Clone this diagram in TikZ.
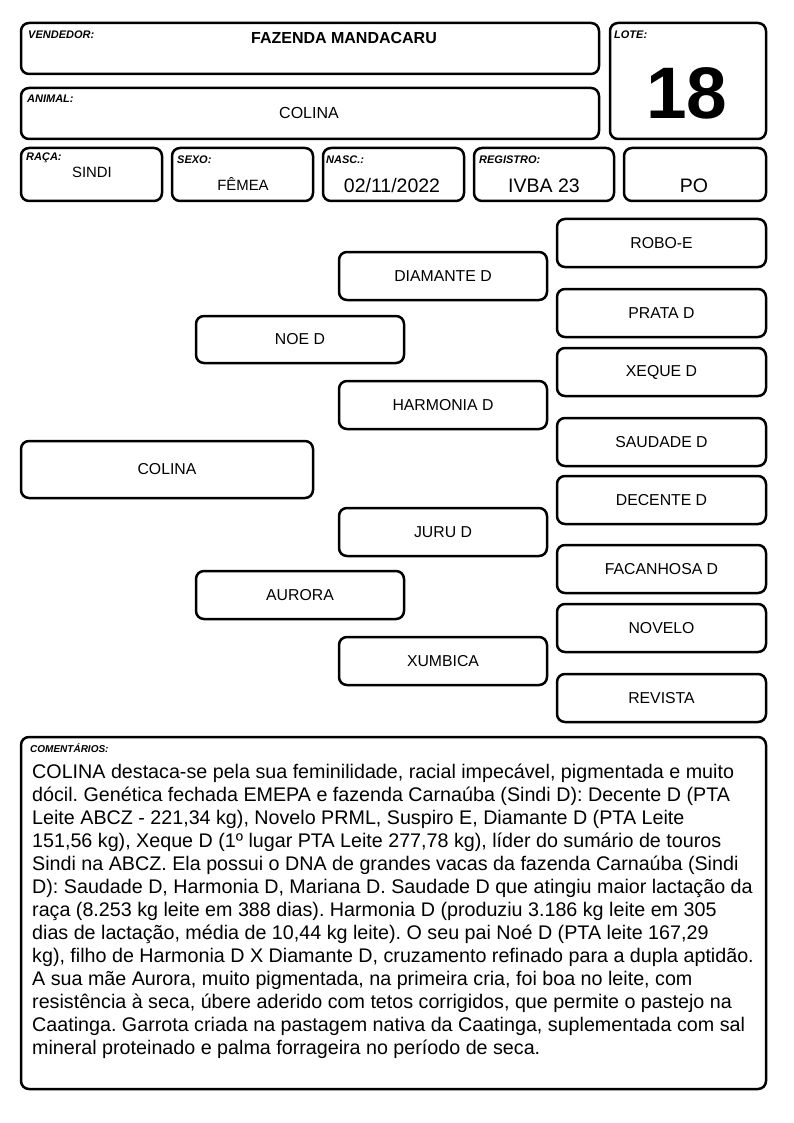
\documentclass[tikz,border=0pt]{standalone}
\usepackage{fontspec}
\setmainfont{Liberation Sans}
\frenchspacing
\begin{document}
\begin{tikzpicture}[x=1pt,y=-1pt,
  box/.style={draw=black,line width=2.5pt,rounded corners=8pt},
  lbl/.style={anchor=west,font=\fontsize{11}{12}\selectfont\bfseries\itshape,inner sep=0pt},
  ped/.style={font=\fontsize{15.8}{17}\selectfont,inner sep=0pt},
  val/.style={font=\fontsize{19.5}{21}\selectfont,inner sep=0pt},
  sval/.style={font=\fontsize{14.9}{16}\selectfont,inner sep=0pt}]
\useasboundingbox (0,0) rectangle (794,1123);
% header boxes
\draw[box] (21,23) rectangle (599,74);
\draw[box] (610,23) rectangle (766,139);
\draw[box] (21,88) rectangle (599,139);
\draw[box] (21,148) rectangle (162,201);
\draw[box] (172,148) rectangle (313,201);
\draw[box] (323,148) rectangle (464,201);
\draw[box] (474,148) rectangle (614,201);
\draw[box] (624,148) rectangle (766,201);
\node[lbl] (lvend) at (28,35) {VENDEDOR:};
\node[font=\fontsize{16}{18}\selectfont\bfseries,inner sep=0pt] (vend) at (344,38) {FAZENDA MANDACARU};
\node[lbl] (llote) at (614,35) {LOTE:};
\node[font=\fontsize{73}{73}\selectfont\bfseries,inner sep=0pt] (lote) at (687,93) {18};
\node[lbl] (lanim) at (27,99) {ANIMAL:};
\node[font=\fontsize{16}{18}\selectfont,inner sep=0pt] (anim) at (309,113) {COLINA};
\node[lbl] (lraca) at (26,158) {RAÇA:};
\node[sval] (raca) at (92,172) {SINDI};
\node[lbl] (lsexo) at (177,160) {SEXO:};
\node[sval] (sexo) at (243,184) {FÊMEA};
\node[lbl] (lnasc) at (326,160) {NASC.:};
\node[val] (nasc) at (392,186) {02/11/2022};
\node[lbl] (lreg) at (479,160) {REGISTRO:};
\node[val] (reg) at (544,186) {IVBA 23};
\node[val] (po) at (694,186) {PO};
% pedigree
\draw[box] (21,441) rectangle node[ped] (colina) {COLINA} (313,498);
\draw[box] (196,316) rectangle node[ped] (noe) {NOE D} (404,363);
\draw[box] (196,571) rectangle node[ped] (aurora) {AURORA} (404,619);
\draw[box] (339,252) rectangle node[ped] (diam) {DIAMANTE D} (547,300);
\draw[box] (339,381) rectangle node[ped] (harm) {HARMONIA D} (547,429);
\draw[box] (339,508) rectangle node[ped] (juru) {JURU D} (547,556);
\draw[box] (339,637) rectangle node[ped] (xumb) {XUMBICA} (547,685);
\draw[box] (557,219) rectangle node[ped] (robo) {ROBO-E} (766,267);
\draw[box] (557,289) rectangle node[ped] (prata) {PRATA D} (766,337);
\draw[box] (557,348) rectangle node[ped] (xeque) {XEQUE D} (766,396);
\draw[box] (557,418) rectangle node[ped] (saud) {SAUDADE D} (766,466);
\draw[box] (557,476) rectangle node[ped] (dec) {DECENTE D} (766,524);
\draw[box] (557,545) rectangle node[ped] (fac) {FACANHOSA D} (766,593);
\draw[box] (557,604) rectangle node[ped] (nov) {NOVELO} (766,652);
\draw[box] (557,674) rectangle node[ped] (rev) {REVISTA} (766,722);
% comments
\draw[box] (21,737) rectangle (766,1089);
\node[lbl,font=\fontsize{10}{11}\selectfont\bfseries\itshape] (lcom) at (30,748) {COMENTÁRIOS:};
\node[anchor=north west,inner sep=0pt,align=left,font=\fontsize{19.7}{23}\selectfont] (com) at (32,764) {COLINA destaca-se pela sua feminilidade, racial impecável, pigmentada e muito\\
dócil. Genética fechada EMEPA e fazenda Carnaúba (Sindi D): Decente D (PTA\\
Leite ABCZ - 221,34 kg), Novelo PRML, Suspiro E, Diamante D (PTA Leite\\
151,56 kg), Xeque D (1º lugar PTA Leite 277,78 kg), líder do sumário de touros\\
Sindi na ABCZ. Ela possui o DNA de grandes vacas da fazenda Carnaúba (Sindi\\
D): Saudade D, Harmonia D, Mariana D. Saudade D que atingiu maior lactação da\\
raça (8.253 kg leite em 388 dias). Harmonia D (produziu 3.186 kg leite em 305\\
dias de lactação, média de 10,44 kg leite). O seu pai Noé D (PTA leite 167,29\\
kg), filho de Harmonia D X Diamante D, cruzamento refinado para a dupla aptidão.\\
A sua mãe Aurora, muito pigmentada, na primeira cria, foi boa no leite, com\\
resistência à seca, úbere aderido com tetos corrigidos, que permite o pastejo na\\
Caatinga. Garrota criada na pastagem nativa da Caatinga, suplementada com sal\\
mineral proteinado e palma forrageira no período de seca.};
\end{tikzpicture}
\end{document}
